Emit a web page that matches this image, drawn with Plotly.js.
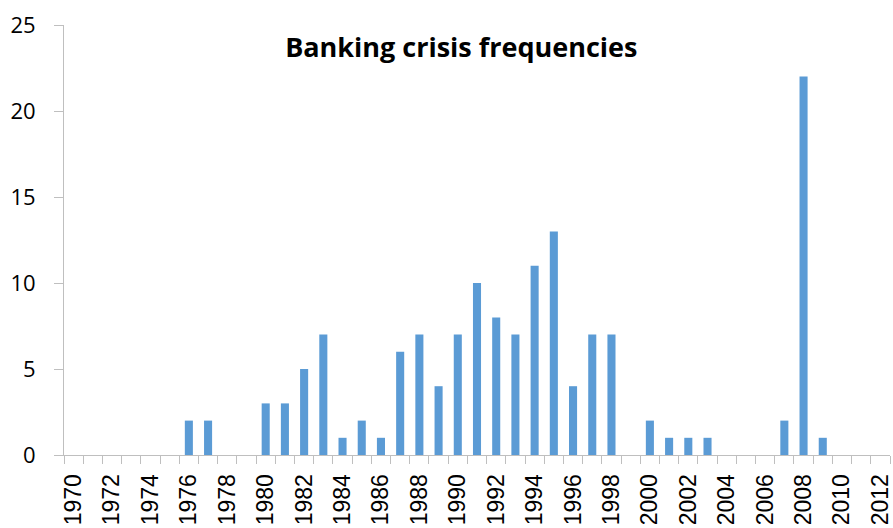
<!DOCTYPE html>
<html>
<head>
<meta charset="utf-8">
<script src="https://cdn.plot.ly/plotly-3.0.1.min.js"></script>
<style>
html,body{margin:0;padding:0;background:#fff;}
#chart{width:893px;height:528px;}
</style>
</head>
<body>
<div id="chart"></div>
<script>
const years = [1970,1971,1972,1973,1974,1975,1976,1977,1978,1979,
  1980,1981,1982,1983,1984,1985,1986,1987,1988,1989,
  1990,1991,1992,1993,1994,1995,1996,1997,1998,1999,
  2000,2001,2002,2003,2004,2005,2006,2007,2008,2009,
  2010,2011,2012];
const crises = [0,0,0,0,0,0,2,2,0,0,
  3,3,5,7,1,2,1,6,7,4,
  7,10,8,7,11,13,4,7,7,0,
  2,1,1,1,0,0,0,2,22,1,
  0,0,0];
const tickYears = [1970,1972,1974,1976,1978,1980,1982,1984,1986,1988,1990,
  1992,1994,1996,1998,2000,2002,2004,2006,2008,2010,2012];
const tickLabels = tickYears.map(String);
const yTicks = [0,5,10,15,20,25];
const chartTitle = 'Banking crisis frequencies';

const axisGray = '#bfbfbf';

const trace = {
  type: 'bar',
  x: years,
  y: crises,
  marker: {color: '#5b9bd5'},
  hoverinfo: 'x+y'
};

const layout = {
  width: 893, height: 528,
  margin: {l: 64, r: 3, t: 25, b: 73},
  paper_bgcolor: '#fff', plot_bgcolor: '#fff',
  bargap: 0.58,
  showlegend: false,
  title: {
    text: '<b>' + chartTitle + '</b>',
    font: {family: 'Open Sans', size: 27, color: '#000'},
    xref: 'paper', x: 0.481, xanchor: 'center',
    yref: 'paper', y: 0.947, yanchor: 'middle'
  },
  xaxis: {
    type: 'linear',
    range: [1969.5, 2012.5],
    tickvals: tickYears,
    ticktext: tickLabels,
    tickangle: -90,
    ticks: '',
    ticklabelstandoff: 9,
    ticklabeloverflow: 'allow',
    showgrid: false, zeroline: false,
    showline: true, linecolor: axisGray, linewidth: 1,
    tickfont: {family: 'Liberation Sans', size: 23, color: '#000'},
    minor: {ticks: 'outside', tick0: 1969.5, dtick: 1, ticklen: 8, tickcolor: axisGray, tickwidth: 1, showgrid: false}
  },
  yaxis: {
    range: [0, 25],
    tickvals: yTicks,
    ticks: 'outside', ticklen: 9, tickcolor: axisGray, tickwidth: 1,
    ticklabelstandoff: 14,
    showgrid: false, zeroline: false,
    showline: true, linecolor: axisGray, linewidth: 1,
    tickfont: {family: 'Open Sans', size: 22, color: '#000'}
  }
};

Plotly.newPlot('chart', [trace], layout, {displayModeBar: false, staticPlot: true});
</script>
</body>
</html>
